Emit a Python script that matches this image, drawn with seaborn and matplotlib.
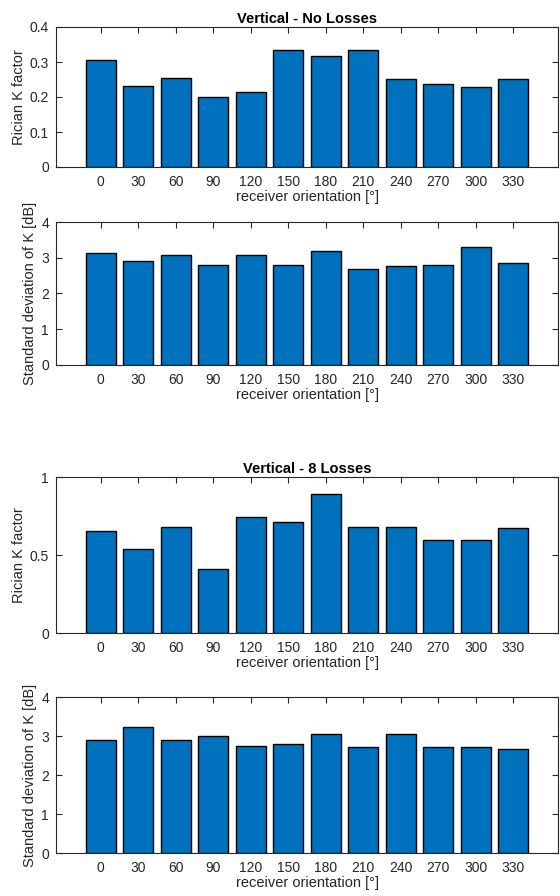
import matplotlib
matplotlib.use("Agg")
import matplotlib.pyplot as plt
import seaborn as sns
import pandas as pd
import numpy as np

angles = [0, 30, 60, 90, 120, 150, 180, 210, 240, 270, 300, 330]
k_noloss = [0.306, 0.231, 0.255, 0.200, 0.215, 0.333, 0.317, 0.334, 0.252, 0.237, 0.229, 0.250]
std_noloss = [3.12, 2.92, 3.07, 2.81, 3.09, 2.81, 3.18, 2.69, 2.78, 2.81, 3.31, 2.84]
k_8loss = [0.657, 0.540, 0.680, 0.411, 0.746, 0.714, 0.888, 0.678, 0.680, 0.595, 0.595, 0.672]
std_8loss = [2.89, 3.24, 2.89, 2.99, 2.75, 2.80, 3.05, 2.73, 3.04, 2.73, 2.73, 2.67]

titles = ["Vertical - No Losses", None, "Vertical - 8 Losses", None]
ylabels = ["Rician K factor", "Standard deviation of K [dB]", "Rician K factor", "Standard deviation of K [dB]"]
yticks = [[0, 0.1, 0.2, 0.3, 0.4], [0, 1, 2, 3, 4], [0, 0.5, 1], [0, 1, 2, 3, 4]]
ytick_labels = [["0", "0.1", "0.2", "0.3", "0.4"], ["0", "1", "2", "3", "4"], ["0", "0.5", "1"], ["0", "1", "2", "3", "4"]]
ylims = [(0, 0.4), (0, 4), (0, 1), (0, 4)]
series = [k_noloss, std_noloss, k_8loss, std_8loss]

sns.set_theme(style="white")
plt.rcParams['font.family'] = ['Liberation Sans', 'DejaVu Sans']
dark = '#262626'

fig = plt.figure(figsize=(5.6, 8.96), dpi=100)
W, H = 560, 896
boxes = [(27, 167), (222, 365), (477, 633), (697, 853)]
left, right = 56, 558

for i, (top, bot) in enumerate(boxes):
    ax = fig.add_axes([left / W, 1 - bot / H, (right - left) / W, (bot - top) / H])
    df = pd.DataFrame({"angle": [str(a) for a in angles], "value": series[i]})
    sns.barplot(data=df, x="angle", y="value", order=[str(a) for a in angles],
                color='#0072BD', saturation=1, width=0.8, edgecolor='black',
                linewidth=1.0, ax=ax)
    ax.set_xlim(-1.19, 11 + 1.19)
    ax.set_ylim(*ylims[i])
    ax.set_yticks(yticks[i])
    ax.set_yticklabels(ytick_labels[i])
    ax.set_xlabel("receiver orientation [°]", fontsize=10.5, color=dark, labelpad=0.5)
    ax.set_ylabel(ylabels[i], fontsize=10.5, color=dark, labelpad=3)
    if titles[i]:
        ax.set_title(titles[i], fontsize=10.5, fontweight='bold', color='black', pad=3)
    ax.tick_params(axis='both', direction='in', length=4, width=0.8, colors=dark,
                   labelsize=10, top=True, right=True, bottom=True, left=True)
    ax.tick_params(axis='x', pad=6)
    ax.tick_params(axis='y', pad=5)
    for s in ax.spines.values():
        s.set_visible(True)
        s.set_color(dark)
        s.set_linewidth(0.8)

fig.savefig("out.png", dpi=100)
